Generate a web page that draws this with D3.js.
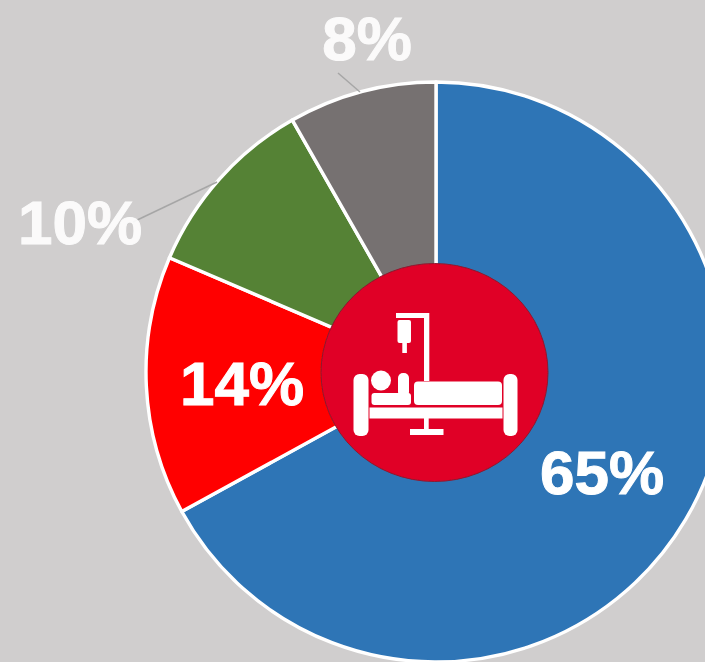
<!DOCTYPE html>
<html><head><meta charset="utf-8">
<script src="https://cdn.jsdelivr.net/npm/d3@7"></script>
<style>html,body{margin:0;padding:0;background:#d0cece;overflow:hidden}svg{display:block}</style>
</head><body><div id="c"></div>
<script>
const categories = ["A","B","C","D"];
const values = [65,14,10,8];
const labels = ["65%","14%","10%","8%"];
const colors = ["#2e75b6","#ff0000","#548235","#767171"];

const W=705,H=662,cx=436,cy=372,R=290;
const labelPos=[[602,494],[242,405],[80,244],[367,60]];
const leaders=[null,null,[[133,222],[217,182]],[[338,73],[360,92]]];

const svg=d3.select("#c").append("svg").attr("width",W).attr("height",H);
svg.append("rect").attr("width",W).attr("height",H).attr("fill","#d0cece");
const defs=svg.append("defs");
defs.append("filter").attr("id","soft").attr("x","-5%").attr("y","-5%").attr("width","110%").attr("height","110%")
 .append("feGaussianBlur").attr("stdDeviation",0.6);
const root=svg.append("g").attr("filter","url(#soft)");
const g=root.append("g").attr("transform",`translate(${cx},${cy})`);
const pie=d3.pie().sort(null).value(d=>d);
const arc=d3.arc().innerRadius(0).outerRadius(R);
g.selectAll("path").data(pie(values)).join("path")
 .attr("d",arc).attr("fill",(d,i)=>colors[i]).attr("stroke","#fff").attr("stroke-width",3.4).attr("stroke-linejoin","round");

leaders.forEach(l=>{ if(l) root.append("path").attr("d",d3.line()(l)).attr("fill","none").attr("stroke","#a6a6a6").attr("stroke-width",1.5); });

root.selectAll("text.l").data(labels).join("text").attr("class","l")
 .attr("x",(d,i)=>labelPos[i][0]).attr("y",(d,i)=>labelPos[i][1])
 .attr("text-anchor","middle").attr("font-family","'Liberation Sans',Arial,sans-serif")
 .attr("font-weight","bold").attr("font-size",62).attr("fill","#fff")
 .attr("stroke","#fff").attr("stroke-width",1)
 .attr("opacity",(d,i)=>i>=2?0.9:1).text(d=>d);

root.append("ellipse").attr("cx",434.5).attr("cy",372.5).attr("rx",113.5).attr("ry",109)
 .attr("fill","#e00025").attr("stroke","#8c1a30").attr("stroke-width",1);

const icon=root.append("g").attr("fill","#fff");
const rects=[
 [353.5,374,15,62,6],[503.5,374,14,62,6],
 [369.5,407.5,133,11,0],[414,381.5,88,23.5,4],
 [424,313,5.3,68,0],[396,313,33,5,0],
 [397.5,320,13.5,23,2],[402.3,343,4.6,10,0],
 [371.5,393,39.5,12,3],[398,373,11,24,5],
 [424,418,4.7,12,0],[410,429,33.5,6,0]];
rects.forEach(r=>icon.append("rect").attr("x",r[0]).attr("y",r[1]).attr("width",r[2]).attr("height",r[3]).attr("rx",r[4]));
icon.append("circle").attr("cx",381).attr("cy",380.5).attr("r",10);
</script></body></html>
